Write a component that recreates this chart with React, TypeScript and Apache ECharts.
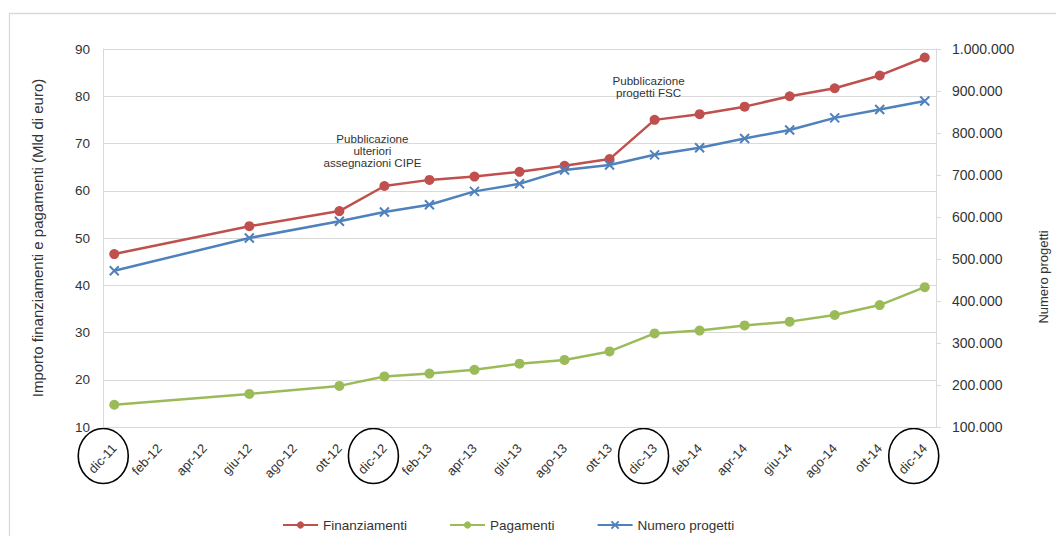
import React, { useEffect, useRef } from 'react';
import * as echarts from 'echarts';

const monthNames = ['gen', 'feb', 'mar', 'apr', 'mag', 'giu', 'lug', 'ago', 'set', 'ott', 'nov', 'dic'];
const categories: string[] = [];
for (let i = 0; i <= 36; i++) {
  const m = (11 + i) % 12;
  const y = 11 + Math.floor((11 + i) / 12);
  categories.push(`${monthNames[m]}-${y}`);
}

const dataMonths = ['dic-11', 'giu-12', 'ott-12', 'dic-12', 'feb-13', 'apr-13', 'giu-13', 'ago-13', 'ott-13', 'dic-13', 'feb-14', 'apr-14', 'giu-14', 'ago-14', 'ott-14', 'dic-14'];
const finanziamenti = [46.6, 52.5, 55.7, 61.0, 62.3, 63.0, 64.0, 65.3, 66.7, 75.0, 76.2, 77.8, 80.0, 81.7, 84.4, 88.2];
const pagamenti = [14.7, 17.0, 18.7, 20.7, 21.3, 22.1, 23.4, 24.2, 26.0, 29.8, 30.4, 31.5, 32.3, 33.7, 35.8, 39.6];
const numeroProgetti = [472000, 550000, 590000, 612000, 629000, 661000, 679000, 712000, 724000, 748000, 765000, 787000, 807000, 836000, 856000, 876000];

const leftTicks = { min: 10, max: 90, interval: 10 };
const rightTicks = { min: 100000, max: 1000000, interval: 100000 };

const highlightMonths = ['dic-11', 'dic-12', 'dic-13', 'dic-14'];
const annotationMonths = ['dic-12', 'dic-13'];
const annotationValues = [61.0, 75.0];
const annotationTexts = ['Pubblicazione\nulteriori\nassegnazioni CIPE', 'Pubblicazione\nprogetti FSC'];
const rightAxisTitle = 'Numero progetti';

const FONT = '"Liberation Sans", Arial, sans-serif';
const RED = '#C0504D';
const GREEN = '#9BBB59';
const BLUE = '#4F81BD';
const GRID = '#d9d9d9';
const TXT = '#333333';

const fmtThousands = (v: number) => String(v).replace(/\B(?=(\d{3})+(?!\d))/g, '.');

export default function App() {
  const ref = useRef<HTMLDivElement>(null);
  useEffect(() => {
    if (!ref.current) return;
    const chart = echarts.init(ref.current, undefined, { renderer: 'svg' });
    const pair = (vals: number[]) => dataMonths.map((m, i) => [m, vals[i]]);
    chart.setOption({
      animation: false,
      textStyle: { fontFamily: FONT },
      grid: { left: 103, right: 120, top: 49, bottom: 109 },
      legend: {
        left: 277,
        top: 513,
        itemWidth: 35,
        itemHeight: 9,
        itemGap: 42,
        textStyle: { fontSize: 13.5, color: TXT, fontFamily: FONT },
        data: ['Finanziamenti', 'Pagamenti', 'Numero progetti'],
      },
      xAxis: {
        type: 'category',
        data: categories,
        boundaryGap: true,
        axisLine: { lineStyle: { color: GRID, width: 1 } },
        axisTick: { show: false },
        axisLabel: {
          interval: 1,
          rotate: 47,
          margin: 19,
          fontSize: 13,
          color: TXT,
          fontFamily: FONT,
        },
      },
      yAxis: [
        {
          type: 'value',
          ...leftTicks,
          name: 'Importo finanziamenti e pagamenti (Mld di euro)',
          nameLocation: 'middle',
          nameRotate: 90,
          nameGap: 58,
          nameTextStyle: { fontSize: 15, color: TXT, fontFamily: FONT },
          axisLine: { show: true, lineStyle: { color: GRID } },
          axisTick: { show: false },
          splitLine: { lineStyle: { color: GRID, width: 1 } },
          axisLabel: { fontSize: 13.5, color: TXT, margin: 13, fontFamily: FONT },
        },
        {
          type: 'value',
          ...rightTicks,
          position: 'right',
          axisLine: { show: true, lineStyle: { color: GRID } },
          axisTick: { show: true, length: 5, lineStyle: { color: GRID } },
          splitLine: { show: false },
          axisLabel: { fontSize: 14, color: TXT, margin: 16, fontFamily: FONT, formatter: (v: number) => fmtThousands(v) },
        },
      ],
      series: [
        {
          name: 'Finanziamenti',
          type: 'line',
          yAxisIndex: 0,
          data: pair(finanziamenti),
          symbol: 'circle',
          symbolSize: 10,
          lineStyle: { color: RED, width: 2.5 },
          itemStyle: { color: RED },
          z: 3,
        },
        {
          name: 'Pagamenti',
          type: 'line',
          yAxisIndex: 0,
          data: pair(pagamenti),
          symbol: 'circle',
          symbolSize: 10,
          lineStyle: { color: GREEN, width: 2.5 },
          itemStyle: { color: GREEN },
          z: 3,
        },
        {
          name: 'Numero progetti',
          type: 'line',
          yAxisIndex: 1,
          data: pair(numeroProgetti),
          symbol: 'path://M0,0L10,10M0,10L10,0',
          symbolSize: 9,
          lineStyle: { color: BLUE, width: 2.5 },
          itemStyle: { color: BLUE, borderColor: BLUE, borderWidth: 2 },
          z: 3,
        },
      ],
    });

    const graphics: any[] = [
      {
        type: 'rect',
        shape: { x: 9.5, y: 13.5, width: 1200, height: 800 },
        style: { fill: 'none', stroke: GRID, lineWidth: 1.3 },
        silent: true,
      },
      {
        type: 'text',
        x: 1043,
        y: 277,
        rotation: Math.PI / 2,
        style: {
          text: rightAxisTitle,
          fontSize: 13,
          fontFamily: FONT,
          fill: TXT,
          align: 'center',
          verticalAlign: 'middle',
        },
        silent: true,
      },
    ];
    highlightMonths.forEach((m) => {
      const p = chart.convertToPixel({ xAxisIndex: 0, yAxisIndex: 0 }, [m, leftTicks.min]) as number[];
      graphics.push({
        type: 'ellipse',
        shape: { cx: p[0] - 11, cy: p[1] + 29, rx: 25, ry: 27.5 },
        style: { fill: 'none', stroke: '#000', lineWidth: 1.6 },
        silent: true,
      });
    });
    const annDx = [-12, -6];
    const annDy = [-18, -21];
    annotationMonths.forEach((m, i) => {
      const p = chart.convertToPixel({ xAxisIndex: 0, yAxisIndex: 0 }, [m, annotationValues[i]]) as number[];
      graphics.push({
        type: 'text',
        x: p[0] + annDx[i],
        y: p[1] + annDy[i],
        style: {
          text: annotationTexts[i],
          fontSize: 11.6,
          lineHeight: 12,
          fontFamily: FONT,
          fill: TXT,
          align: 'center',
          verticalAlign: 'bottom',
        },
        silent: true,
      });
    });
    chart.setOption({ graphic: graphics });

    return () => chart.dispose();
  }, []);
  return <div ref={ref} style={{ position: 'absolute', left: 0, top: 0, width: 1056, height: 536 }} />;
}
